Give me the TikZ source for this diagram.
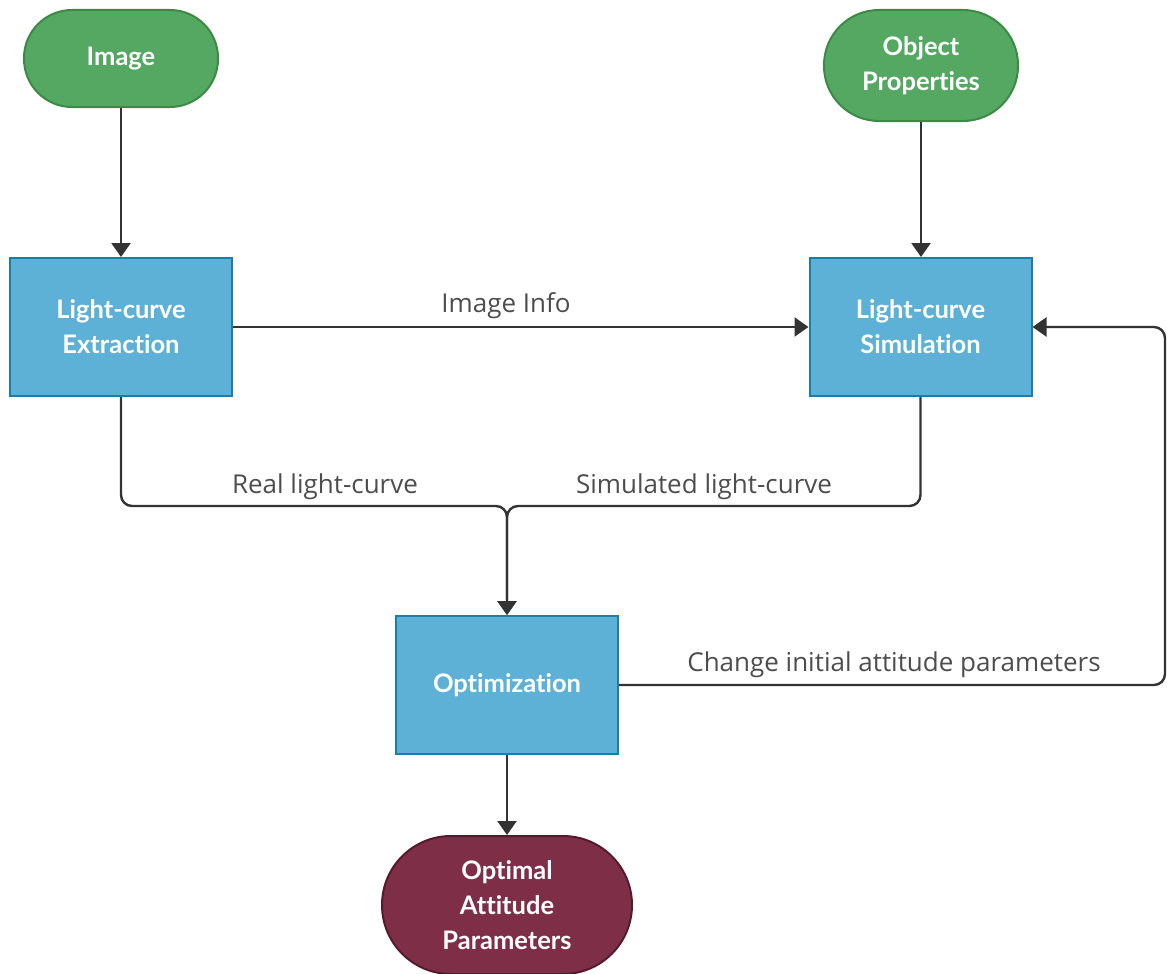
\documentclass[tikz,border=0pt]{standalone}
\usepackage{fontspec}
\setmainfont{Lato}[Ligatures=NoCommon]
\newfontfamily\lblfont{Open Sans}
\usetikzlibrary{arrows.meta}
\definecolor{termfill}{HTML}{55A862}
\definecolor{termline}{HTML}{3B8A45}
\definecolor{procfill}{HTML}{5DB1D6}
\definecolor{procline}{HTML}{1C7DA6}
\definecolor{endfill}{HTML}{7F2E48}
\definecolor{endline}{HTML}{561A2E}
\definecolor{wire}{HTML}{333333}
\definecolor{lbl}{HTML}{4D4D4D}
\tikzset{
  nodetext/.style={text=white, font=\fontsize{25.5}{35}\selectfont\bfseries, align=center, inner sep=0pt},
  terminal/.style={nodetext, draw=termline, fill=termfill, line width=2pt, minimum width=194pt},
  procbox/.style={nodetext, draw=procline, fill=procfill, line width=2pt, minimum width=222pt, minimum height=138pt},
  result/.style={nodetext, draw=endline, fill=endfill, line width=2pt, minimum width=250pt, minimum height=138pt, rounded corners=69pt},
  flow/.style={draw=wire, line width=2.4pt, -{Triangle[width=19pt,length=14pt]}, rounded corners=11pt},
  edgelabel/.style={text=lbl, font=\lblfont\fontsize{26}{30}\selectfont, inner sep=0pt}
}
\begin{document}
\begin{tikzpicture}[x=1pt,y=-1pt]
\useasboundingbox (0,0) rectangle (1167,974);
\node[terminal, minimum height=97pt, rounded corners=48pt] (img) at (121,58.5) {Image};
\node[terminal, minimum height=111pt, rounded corners=55pt] (obj) at (921,65.5) {Object\\Properties};
\node[procbox] (ext) at (121,327) {Light-curve\\Extraction};
\node[procbox] (sim) at (920.5,327) {Light-curve\\Simulation};
\node[procbox] (opt) at (507,685) {Optimization};
\node[result] (oap) at (507,905) {Optimal\\Attitude\\Parameters};
\coordinate (mergeL) at (121,506);
\coordinate (mergeR) at (920.5,506);
\coordinate (loopB) at (1165,685);
\coordinate (loopT) at (1165,327);

\draw[flow] (img) -- (ext);
\draw[flow] (obj.south) -- (obj.south |- sim.north);
\draw[flow] (ext) -- (sim);
\draw[flow] (ext.south) -- (mergeL) -- (mergeL -| opt.north) -- (opt.north);
\draw[flow] (sim.south) -- (mergeR) -- (mergeR -| opt.north) -- (opt.north);
\draw[flow] (opt.east) -- (loopB) -- (loopT) -- (sim.east);
\draw[flow] (opt) -- (oap);

\node[edgelabel] (l1) at (506,305.5) {Image Info};
\node[edgelabel] (l2) at (325,486.5) {Real light-curve};
\node[edgelabel] (l3) at (704,486.5) {Simulated light-curve};
\node[edgelabel] (l4) at (894,664.5) {Change initial attitude parameters};
\end{tikzpicture}
\end{document}
